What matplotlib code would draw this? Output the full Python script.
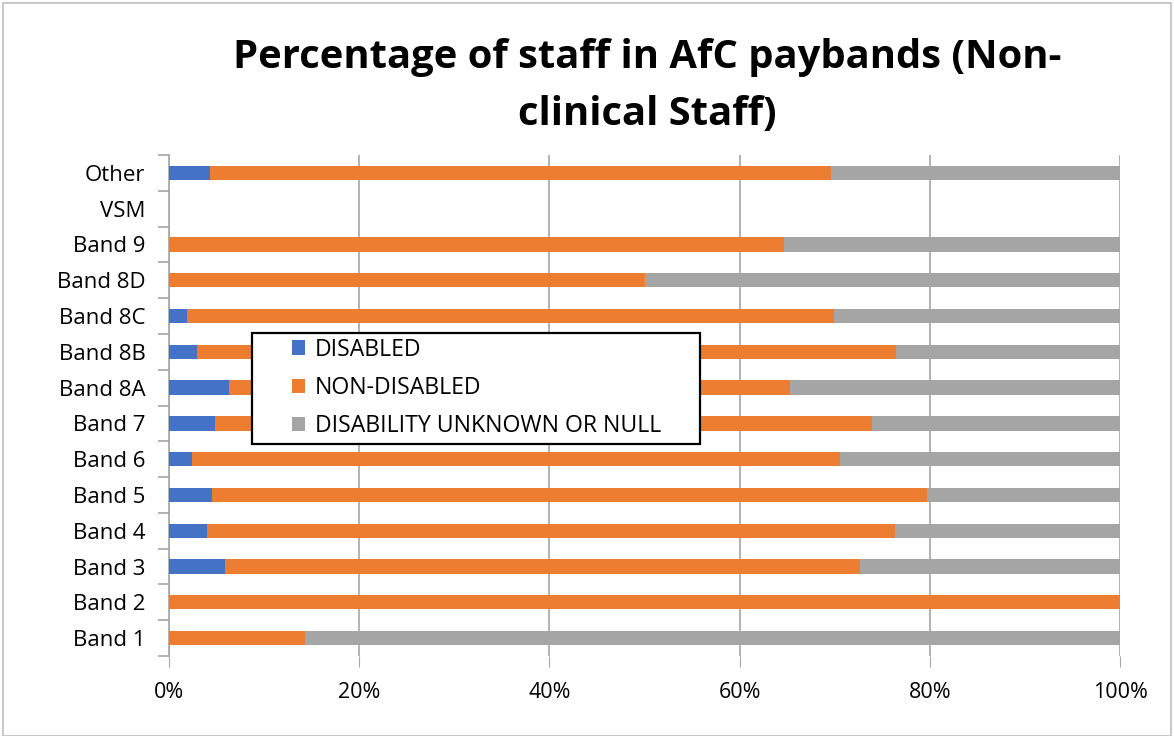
import matplotlib.pyplot as plt
import numpy as np
from matplotlib.ticker import PercentFormatter

categories = ['Band 1', 'Band 2', 'Band 3', 'Band 4', 'Band 5', 'Band 6', 'Band 7',
              'Band 8A', 'Band 8B', 'Band 8C', 'Band 8D', 'Band 9', 'VSM', 'Other']
disabled = [0.0, 0.0, 5.9, 4.0, 4.5, 2.4, 4.8, 6.3, 2.9, 1.9, 0.0, 0.0, 0.0, 4.3]
non_disabled = [14.3, 100.0, 66.8, 72.3, 75.2, 68.2, 69.1, 59.0, 73.5, 68.0, 50.0, 64.7, 0.0, 65.3]
unknown = [85.7, 0.0, 27.3, 23.7, 20.3, 29.4, 26.1, 34.7, 23.6, 30.1, 50.0, 35.3, 0.0, 30.4]

plt.rcParams['font.family'] = ['Open Sans', 'DejaVu Sans']

W, H = 1174, 736
fig = plt.figure(figsize=(W / 100, H / 100), dpi=100)
ax = fig.add_axes([169 / W, 1 - 656 / H, 951 / W, 501 / H])

y = np.arange(len(categories))
d = np.array(disabled)
n = np.array(non_disabled)
u = np.array(unknown)
h = 0.4
ax.barh(y, d, height=h, color='#4472C4', label='DISABLED', zorder=3)
ax.barh(y, n, left=d, height=h, color='#ED7D31', label='NON-DISABLED', zorder=3)
ax.barh(y, u, left=d + n, height=h, color='#A5A5A5', label='DISABILITY UNKNOWN OR NULL', zorder=3)

ax.set_xlim(0, 100)
ax.set_ylim(-0.5, len(categories) - 0.5)
ax.set_yticks(y)
ax.set_yticklabels(categories, fontsize=16)
ax.set_yticks(np.arange(len(categories) + 1) - 0.5, minor=True)
ax.tick_params(axis='y', which='major', length=0, pad=17)
ax.tick_params(axis='y', which='minor', length=8, color='#a6a6a6', width=1.2)
ax.set_xticks(np.arange(0, 101, 20))
ax.xaxis.set_major_formatter(PercentFormatter(decimals=0))
ax.tick_params(axis='x', labelsize=15.5, length=8, color='#a6a6a6', pad=11)
ax.grid(axis='x', color='#a6a6a6', linewidth=1.2, zorder=0)

for s in ['top', 'right', 'bottom']:
    ax.spines[s].set_visible(False)
ax.spines['left'].set_color('#a6a6a6')
ax.spines['left'].set_linewidth(1.2)

fig.text(647 / W, 1 - 86 / H, 'Percentage of staff in AfC paybands (Non-\nclinical Staff)',
         ha='center', va='center', fontsize=28.8, fontweight='bold', linespacing=1.6)

# legend box drawn separately so the padding matches the original
box = plt.Rectangle((252 / W, 1 - 444 / H), 448 / W, 111 / H, transform=fig.transFigure,
                    facecolor='white', edgecolor='black', linewidth=1.6, zorder=4)
fig.patches.append(box)
leg = fig.legend(loc='center left', bbox_to_anchor=(292 / W, 1 - 388 / H),
                 fontsize=16.6, frameon=False, handlelength=0.58, handleheight=0.58,
                 borderpad=0, labelspacing=0.62, borderaxespad=0, handletextpad=0.42)
leg.set_zorder(5)

border = plt.Rectangle((3 / W, 0), 1 - 6 / W, 1 - 3 / H, transform=fig.transFigure,
                       fill=False, edgecolor='#bfbfbf', linewidth=1.2)
fig.patches.append(border)

fig.savefig('out.png', dpi=100)
